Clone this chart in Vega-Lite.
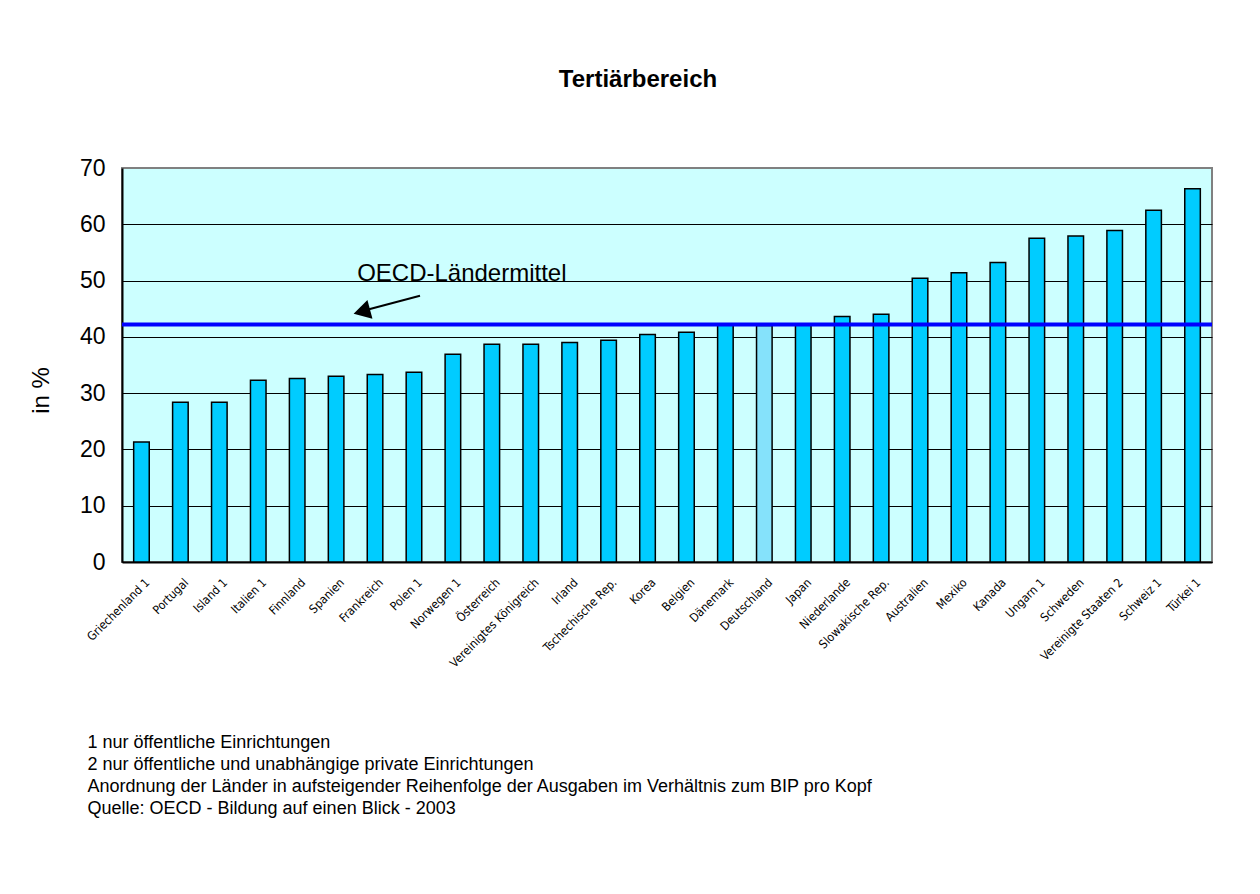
{
  "$schema": "https://vega.github.io/schema/vega-lite/v6.json",
  "width": 1090,
  "height": 394,
  "autosize": {"type": "none"},
  "padding": {"left": 122, "top": 168, "right": 48, "bottom": 332},
  "background": "white",
  "title": {
    "text": "Tertiärbereich",
    "fontSize": 24,
    "fontWeight": "bold",
    "font": "Liberation Sans",
    "color": "black",
    "anchor": "middle",
    "dx": -29,
    "baseline": "alphabetic",
    "offset": 46
  },
  "layer": [
    {
      "data": {
        "values": [
          {"land": "Griechenland 1", "wert": 21.3},
          {"land": "Portugal", "wert": 28.4},
          {"land": "Island 1", "wert": 28.4},
          {"land": "Italien 1", "wert": 32.3},
          {"land": "Finnland", "wert": 32.6},
          {"land": "Spanien", "wert": 33.0},
          {"land": "Frankreich", "wert": 33.3},
          {"land": "Polen 1", "wert": 33.7},
          {"land": "Norwegen 1", "wert": 36.9},
          {"land": "Österreich", "wert": 38.7},
          {"land": "Vereinigtes Königreich", "wert": 38.7},
          {"land": "Irland", "wert": 39.0},
          {"land": "Tschechische Rep.", "wert": 39.4},
          {"land": "Korea", "wert": 40.4},
          {"land": "Belgien", "wert": 40.8},
          {"land": "Dänemark", "wert": 42.1},
          {"land": "Deutschland", "wert": 42.0},
          {"land": "Japan", "wert": 42.2},
          {"land": "Niederlande", "wert": 43.6},
          {"land": "Slowakische Rep.", "wert": 44.0},
          {"land": "Australien", "wert": 50.4},
          {"land": "Mexiko", "wert": 51.4},
          {"land": "Kanada", "wert": 53.2},
          {"land": "Ungarn 1", "wert": 57.5},
          {"land": "Schweden", "wert": 57.9},
          {"land": "Vereinigte Staaten 2", "wert": 58.9},
          {"land": "Schweiz 1", "wert": 62.5},
          {"land": "Türkei 1", "wert": 66.3}
        ]
      },
      "mark": {"type": "bar", "stroke": "black", "strokeWidth": 1.5},
      "encoding": {
        "x": {
          "field": "land",
          "type": "nominal",
          "sort": null,
          "scale": {"paddingInner": 0.6, "paddingOuter": 0.3},
          "axis": {
            "labelAngle": -45,
            "labelAlign": "right",
            "labelBaseline": "middle",
            "labelFont": "'DejaVu Sans Condensed', 'Liberation Sans', sans-serif",
            "labelFontSize": 12,
            "labelColor": "black",
            "labelPadding": 18,
            "labelOffset": 6,
            "ticks": false,
            "domainColor": "black",
            "domainWidth": 2,
            "grid": false,
            "title": [
              "1 nur öffentliche Einrichtungen",
              "2 nur öffentliche und unabhängige private Einrichtungen",
              "Anordnung der Länder in aufsteigender Reihenfolge der Ausgaben im Verhältnis zum BIP pro Kopf",
              "Quelle: OECD - Bildung auf einen Blick - 2003"
            ],
            "titleFont": "Liberation Sans",
            "titleFontSize": 18,
            "titleFontWeight": "normal",
            "titleColor": "black",
            "titleAnchor": "start",
            "titleAlign": "left",
            "titleBaseline": "alphabetic",
            "titleLineHeight": 22,
            "titleX": -35,
            "titleY": 185
          }
        },
        "y": {
          "field": "wert",
          "type": "quantitative",
          "scale": {"domain": [0, 70]},
          "axis": {
            "values": [0, 10, 20, 30, 40, 50, 60, 70],
            "labelFont": "Liberation Sans",
            "labelFontSize": 23,
            "labelColor": "black",
            "labelPadding": 17,
            "ticks": false,
            "domainColor": "black",
            "domainWidth": 2,
            "grid": true,
            "gridColor": {"condition": {"test": "datum.value === 70", "value": "#808080"}, "value": "black"},
            "gridWidth": 1,
            "gridOpacity": 1,
            "title": "in %",
            "titleFont": "Liberation Sans",
            "titleFontSize": 24,
            "titleFontWeight": "normal",
            "titleColor": "black",
            "titleAngle": -90,
            "titleBaseline": "alphabetic",
            "titleAlign": "center",
            "titleX": -74,
            "titleY": 222
          }
        },
        "color": {
          "condition": {"test": "datum.land === 'Deutschland'", "value": "#85E2FB"},
          "value": "#00CCFF"
        }
      }
    },
    {
      "data": {"values": [{"mittel": 42.2}]},
      "mark": {"type": "rule", "color": "#0000FF", "strokeWidth": 4},
      "encoding": {"y": {"field": "mittel", "type": "quantitative"}}
    },
    {
      "data": {"values": [{"label": "OECD-Ländermittel"}]},
      "mark": {"type": "text", "align": "left", "baseline": "alphabetic", "font": "Liberation Sans", "fontSize": 24, "color": "black"},
      "encoding": {
        "x": {"datum": 6.04, "type": "quantitative", "scale": {"domain": [0, 28]}, "axis": null},
        "y": {"datum": 49.85, "type": "quantitative"},
        "text": {"field": "label"}
      }
    },
    {
      "data": {"values": [{"label": "Pfeil"}]},
      "mark": {"type": "rule", "color": "black", "strokeWidth": 2},
      "encoding": {
        "x": {"datum": 7.655, "type": "quantitative", "scale": {"domain": [0, 28]}, "axis": null},
        "x2": {"datum": 6.2},
        "y": {"datum": 47.31, "type": "quantitative"},
        "y2": {"datum": 44.65}
      }
    },
    {
      "data": {"values": [{"label": "Pfeilspitze"}]},
      "mark": {"type": "point", "shape": "triangle-left", "filled": true, "color": "black", "opacity": 1, "size": 380, "angle": -15},
      "encoding": {
        "x": {"datum": 6.16, "type": "quantitative", "scale": {"domain": [0, 28]}, "axis": null},
        "y": {"datum": 44.5, "type": "quantitative"}
      }
    }
  ],
  "resolve": {"scale": {"x": "independent"}},
  "config": {
    "font": "Liberation Sans",
    "view": {"fill": "#CCFFFF", "stroke": "#808080", "strokeWidth": 2}
  }
}
